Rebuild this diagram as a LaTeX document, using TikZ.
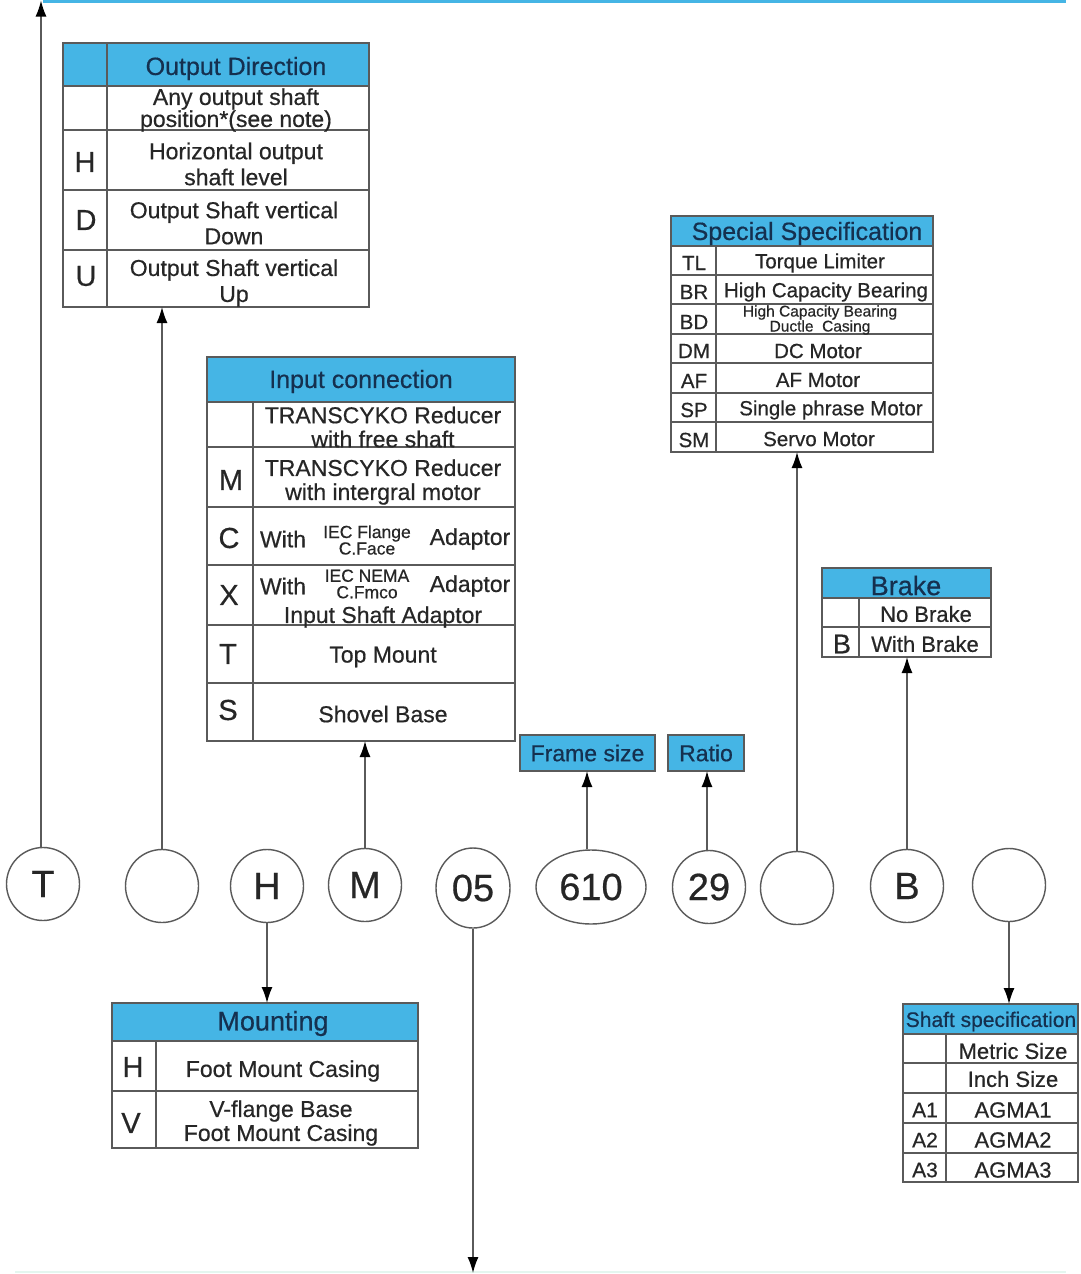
\documentclass[tikz,border=0pt]{standalone}
\usepackage{fontspec}
\setmainfont{Liberation Sans}[FakeBold=0.5]
\usetikzlibrary{arrows.meta,shapes.geometric}
\definecolor{hblue}{HTML}{45B5E5}
\definecolor{navy}{HTML}{15304F}
\definecolor{ink}{HTML}{262626}
\definecolor{grid}{HTML}{5A5A5A}
\definecolor{faint}{HTML}{E4F6EF}
\tikzset{
  tbl/.style={draw=grid, line width=1.4pt, anchor=north west, inner sep=0pt, outer sep=0pt},
  gl/.style={draw=grid, line width=1.3pt},
  hfill/.style={fill=hblue},
  htext/.style={font=\fontsize{25}{28}\selectfont, text=navy, inner sep=0pt, yshift=-2.5pt},
  btext/.style={font=\fontsize{23}{24}\selectfont, text=ink, align=center, inner sep=0pt, yshift=-2pt},
  stext/.style={font=\fontsize{20.5}{22}\selectfont, text=ink, align=center, inner sep=0pt, yshift=-2pt},
  tiny/.style={font=\fontsize{17.5}{16.5}\selectfont, text=ink, align=center, inner sep=0pt, yshift=-1pt},
  letter/.style={font=\fontsize{29}{30}\selectfont, text=ink, inner sep=0pt, yshift=-2pt},
  circ/.style={circle, draw=grid, line width=1.4pt, minimum size=73pt, inner sep=0pt, font=\fontsize{38}{38}\selectfont, text=ink},
  arr/.style={draw=grid, line width=1.5pt, -{Latex[length=16pt,width=11pt,color=black]}},
}
\begin{document}
\begin{tikzpicture}[x=1pt,y=-1pt]
\useasboundingbox (0,0) rectangle (1080,1274);
\fill[white] (0,0) rectangle (1080,1274);
% top and bottom lines
\draw[hblue, line width=3.5pt] (43,1.5) -- (1066,1.5);
\draw[faint, line width=2pt] (15,1272) -- (1066,1272);

% ---------- Output Direction ----------
\fill[hfill] (63,43) rectangle (369,86);
\node[tbl, minimum width=306pt, minimum height=264pt] (od) at (63,43) {};
\draw[gl] (107,43) -- (107,307);
\draw[gl] (63,86) -- (369,86) (63,130) -- (369,130) (63,190) -- (369,190) (63,250) -- (369,250);
\node[htext] (odh) at (236,66) {Output Direction};
\node[btext, font=\fontsize{23}{22}\selectfont] (od1) at (236,108) {Any output shaft\\position*(see note)};
\node[letter] (odH) at (85,160) {H};
\node[btext, font=\fontsize{23}{26}\selectfont] (od2) at (236,162) {Horizontal output\\shaft level};
\node[letter] (odD) at (86,218) {D};
\node[btext, font=\fontsize{23}{26}\selectfont] (od3) at (234,221) {Output Shaft vertical\\Down};
\node[letter] (odU) at (86,274) {U};
\node[btext, font=\fontsize{23}{26}\selectfont] (od4) at (234,281) {Output Shaft vertical\\Up};

% ---------- Input connection ----------
\fill[hfill] (207,357) rectangle (515,402);
\node[tbl, minimum width=308pt, minimum height=384pt] (ic) at (207,357) {};
\draw[gl] (253,402) -- (253,741);
\draw[gl] (207,402) -- (515,402) (207,447) -- (515,447) (207,507) -- (515,507) (207,565) -- (515,565) (207,625) -- (515,625) (207,683) -- (515,683);
\node[htext] (ich) at (361,379) {Input connection};
\node[btext] (ic1) at (383,425) {TRANSCYKO Reducer\\with free shaft};
\node[letter] (icM) at (231,478) {M};
\node[btext] (ic2) at (383,480) {TRANSCYKO Reducer\\with intergral motor};
\node[letter] (icC) at (229,536) {C};
\node[btext] (ic3a) at (283,537) {With};
\node[tiny] (ic3b) at (367,539) {IEC Flange\\C.Face};
\node[btext] (ic3c) at (470,537) {Adaptor};
\node[letter] (icX) at (229,593) {X};
\node[btext] (ic4a) at (283,584) {With};
\node[tiny] (ic4b) at (367,583) {IEC NEMA\\C.Fmco};
\node[btext] (ic4c) at (470,584) {Adaptor};
\node[btext] (ic4d) at (383,615) {Input Shaft Adaptor};
\node[letter] (icT) at (228,652) {T};
\node[btext] (ic5) at (383,655) {Top Mount};
\node[letter] (icS) at (228,708) {S};
\node[btext] (ic6) at (383,712) {Shovel Base};

% ---------- Special Specification ----------
\fill[hfill] (671,216) rectangle (933,246);
\node[tbl, minimum width=262pt, minimum height=236pt] (ss) at (671,216) {};
\draw[gl] (716,246) -- (716,452);
\draw[gl] (671,246) -- (933,246) (671,275) -- (933,275) (671,304) -- (933,304) (671,334) -- (933,334) (671,363) -- (933,363) (671,393) -- (933,393) (671,422) -- (933,422);
\node[htext] (ssh) at (807,231) {Special Specification};
\node[stext] (ssa1) at (694,261) {TL};
\node[stext] (ssb1) at (820,261) {Torque Limiter};
\node[stext] (ssa2) at (694,290) {BR};
\node[stext] (ssb2) at (826,290) {High Capacity Bearing};
\node[stext] (ssa3) at (694,320) {BD};
\node[stext, font=\fontsize{15.5}{15}\selectfont, yshift=0pt] (ssb3) at (820,318) {High Capacity Bearing\\Ductle\ \ Casing};
\node[stext] (ssa4) at (694,349) {DM};
\node[stext] (ssb4) at (818,349) {DC Motor};
\node[stext] (ssa5) at (694,379) {AF};
\node[stext] (ssb5) at (818,378) {AF Motor};
\node[stext] (ssa6) at (694,408) {SP};
\node[stext] (ssb6) at (831,408) {Single phrase Motor};
\node[stext] (ssa7) at (694,438) {SM};
\node[stext] (ssb7) at (819,437) {Servo Motor};

% ---------- Brake ----------
\fill[hfill] (822,568) rectangle (991,598);
\node[tbl, minimum width=169pt, minimum height=89pt] (br) at (822,568) {};
\draw[gl] (859,598) -- (859,657);
\draw[gl] (822,598) -- (991,598) (822,627) -- (991,627);
\node[htext, font=\fontsize{27}{28}\selectfont] (brh) at (906,583) {Brake};
\node[btext, font=\fontsize{22}{24}\selectfont] (br1) at (926,612) {No Brake};
\node[letter, font=\fontsize{27}{28}\selectfont] (brB) at (842,642) {B};
\node[btext, font=\fontsize{22}{24}\selectfont] (br2) at (925,642) {With Brake};

% ---------- Frame size / Ratio ----------
\node[tbl, anchor=center, fill=hblue, minimum width=135pt, minimum height=36pt, font=\fontsize{23}{24}\selectfont, text=navy] (fs) at (587.5,753) {Frame size};
\node[tbl, anchor=center, fill=hblue, minimum width=76pt, minimum height=36pt, font=\fontsize{23}{24}\selectfont, text=navy] (ra) at (706,753) {Ratio};

% ---------- Mounting ----------
\fill[hfill] (112,1003) rectangle (418,1041);
\node[tbl, minimum width=306pt, minimum height=145pt] (mt) at (112,1003) {};
\draw[gl] (156,1041) -- (156,1148);
\draw[gl] (112,1041) -- (418,1041) (112,1091) -- (418,1091);
\node[htext, font=\fontsize{27}{28}\selectfont] (mth) at (273,1021) {Mounting};
\node[letter] (mtH) at (133,1065) {H};
\node[btext] (mt1) at (283,1069) {Foot Mount Casing};
\node[letter] (mtV) at (131,1121) {V};
\node[btext] (mt2) at (281,1121) {V-flange Base\\Foot Mount Casing};

% ---------- Shaft specification ----------
\fill[hfill] (903,1004) rectangle (1078,1034);
\node[tbl, minimum width=175pt, minimum height=178pt] (sh) at (903,1004) {};
\draw[gl] (946,1034) -- (946,1182);
\draw[gl] (903,1034) -- (1078,1034) (903,1063) -- (1078,1063) (903,1093) -- (1078,1093) (903,1123) -- (1078,1123) (903,1153) -- (1078,1153);
\node[htext, font=\fontsize{21}{22}\selectfont] (shh) at (991,1019) {Shaft specification};
\node[btext, font=\fontsize{22}{24}\selectfont] (sh1) at (1013,1049) {Metric Size};
\node[btext, font=\fontsize{22}{24}\selectfont] (sh2) at (1013,1077) {Inch Size};
\node[btext, font=\fontsize{21}{24}\selectfont] (sha3) at (925,1108) {A1};
\node[btext, font=\fontsize{22}{24}\selectfont] (sh3) at (1013,1108) {AGMA1};
\node[btext, font=\fontsize{21}{24}\selectfont] (sha4) at (925,1138) {A2};
\node[btext, font=\fontsize{22}{24}\selectfont] (sh4) at (1013,1138) {AGMA2};
\node[btext, font=\fontsize{21}{24}\selectfont] (sha5) at (925,1168) {A3};
\node[btext, font=\fontsize{22}{24}\selectfont] (sh5) at (1013,1168) {AGMA3};

% ---------- Code circles ----------
\node[circ] (cT) at (43,884) {T};
\node[circ] (cO) at (162,886) {};
\node[circ] (cH) at (267,886) {H};
\node[circ] (cM) at (365,885) {M};
\node[circ, ellipse, minimum width=74pt, minimum height=80pt] (c05) at (473,888) {05};
\node[circ, ellipse, minimum width=110pt, minimum height=74pt] (c610) at (591,887) {610};
\node[circ] (c29) at (709,887) {29};
\node[circ] (cS) at (797,888) {};
\node[circ] (cB) at (907,886) {B};
\node[circ] (cA) at (1009,885) {};

% ---------- connectors ----------
\coordinate (topT) at (41,0.5);
\coordinate (bot05) at (473,1273);
\draw[arr] (cT.north -| topT) -- (topT);
\draw[arr] (cO.north) -- (cO.north |- od.south);
\draw[arr] (cM.north) -- (cM.north |- ic.south);
\draw[arr] ([xshift=-4pt]c610.north) -- ([xshift=-4pt]c610.north |- fs.south);
\draw[arr] ([xshift=-2pt]c29.north) -- ([xshift=-2pt]c29.north |- ra.south);
\draw[arr] (cS.north) -- (cS.north |- ss.south);
\draw[arr] (cB.north) -- (cB.north |- br.south);
\draw[arr] (cH.south) -- (cH.south |- mt.north);
\draw[arr] (cA.south) -- (cA.south |- sh.north);
\draw[arr] (c05.south) -- (bot05);
\end{tikzpicture}
\end{document}
